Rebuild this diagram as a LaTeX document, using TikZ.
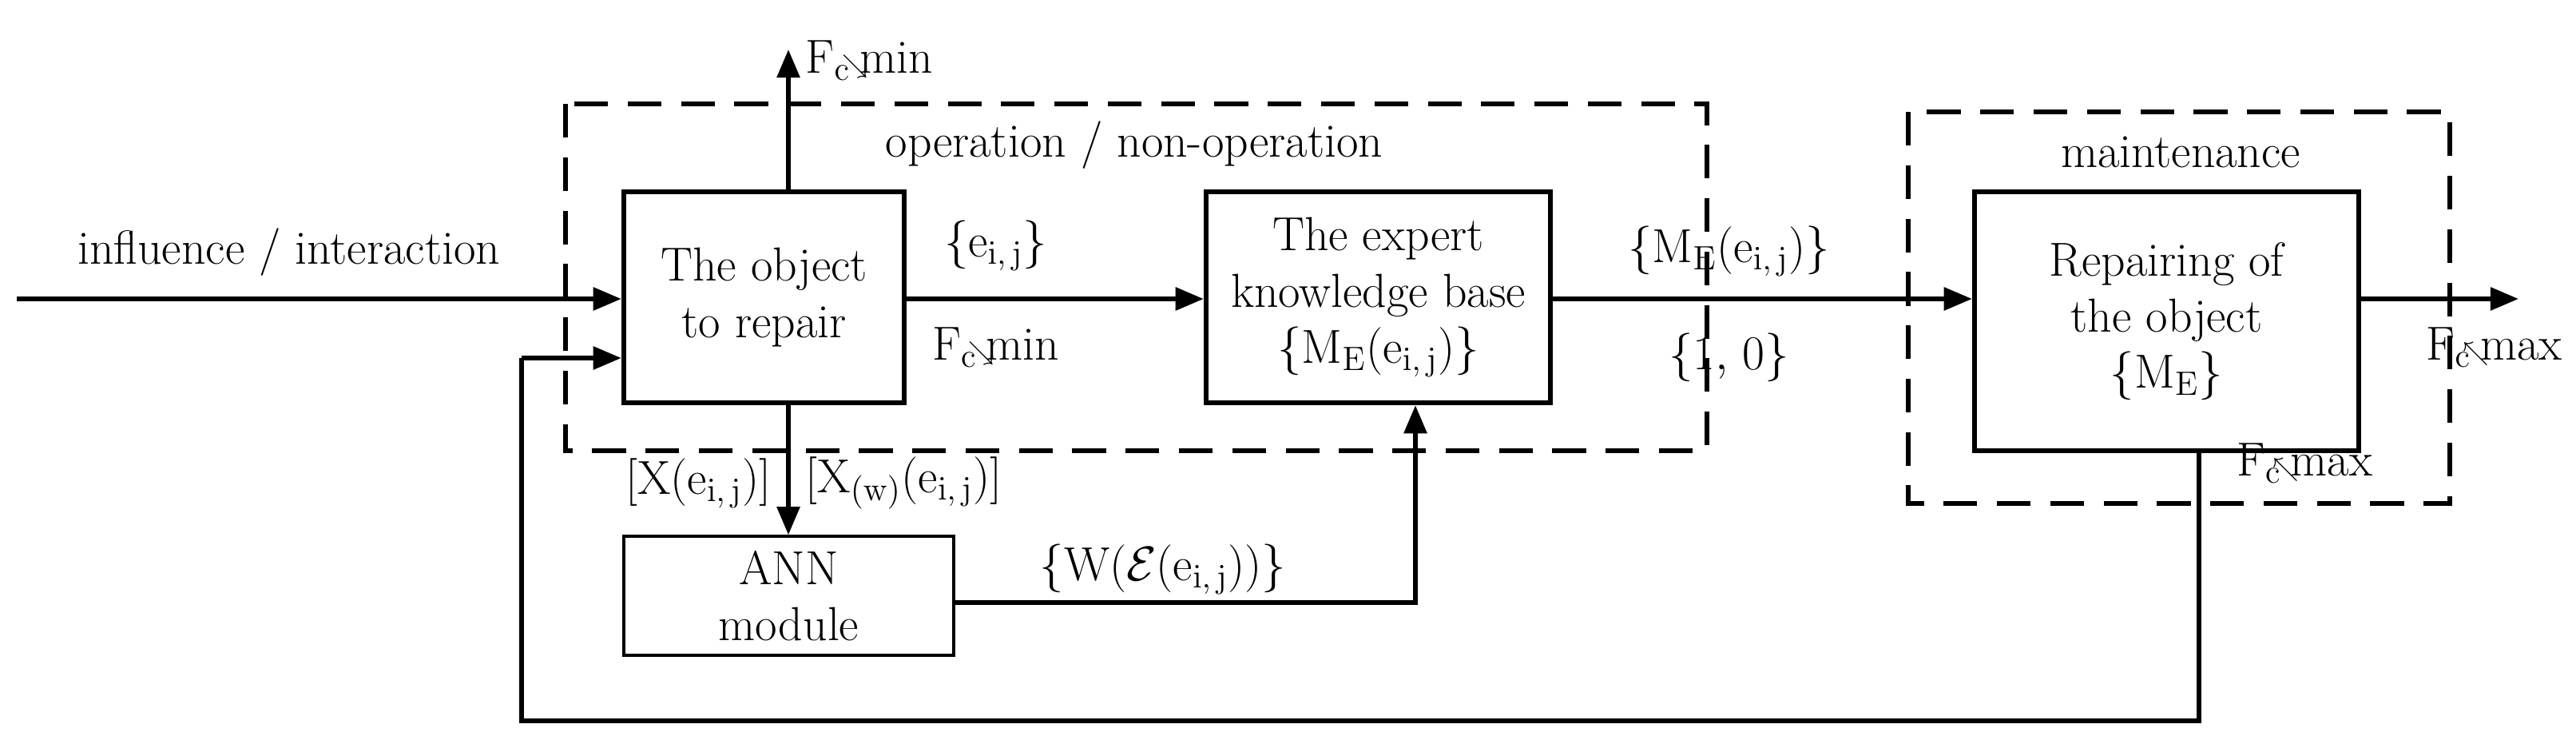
\documentclass[tikz,border=0pt]{standalone}
\usetikzlibrary{arrows.meta}
\begin{document}
\begin{tikzpicture}[x=1cm,y=-1cm,font=\fontsize{17}{20}\selectfont,
  dbox/.style={draw,line width=1.8pt,dash pattern=on 12pt off 7pt},
  arr/.style={line width=1.6pt,-{Triangle[length=10pt,width=8pt]}},
  ln/.style={line width=1.6pt}]
\useasboundingbox (0,0) rectangle (32.25,9.35);
\newcommand{\fcdn}{F$_{\mathrm c}$\kern-3pt{\small$\searrow$}\kern-3pt min}
\newcommand{\fcup}{F$_{\mathrm c}$\kern-3pt{\small$\nwarrow$}\kern-3pt max}
\draw[dbox] (7.08,1.30) rectangle (21.37,5.64);
\draw[dbox] (23.89,1.40) rectangle (30.67,6.30);
\node[draw,line width=1.8pt,minimum width=3.51cm,minimum height=2.64cm,align=center] (obj) at (9.565,3.72) {The object\\to repair};
\node[draw,line width=1.8pt,minimum width=4.31cm,minimum height=2.64cm,align=center] (exp) at (17.255,3.72) {The expert\\knowledge base\\$\{$M$_{\mathrm E}$(e$_{\mathrm{i,\,j}}$)$\}$};
\node[draw,line width=1.8pt,minimum width=4.81cm,minimum height=3.24cm,align=center] (rep) at (27.125,4.02) {Repairing of\\the object\\$\{$M$_{\mathrm E}\}$};
\node[draw,line width=1pt,minimum width=4.13cm,minimum height=1.49cm,align=center] (ann) at (9.875,7.455) {ANN\\module};
\node at (14.2,1.82) {operation / non-operation};
\node at (27.3,1.90) {maintenance};
\coordinate (in) at (0.21,3.74);
\coordinate (top) at (9.87,0.62);
\coordinate (out) at (31.53,3.74);
\coordinate (fb1) at (27.53,9.02);
\coordinate (fb2) at (6.53,9.02);
\coordinate (fb3) at (6.53,4.48);
\coordinate (ex) at (17.72,7.54);
\draw[arr] (in) -- (in -| obj.west) node[pos=0.45,above=4pt] {influence / interaction};
\draw[arr] (obj.north -| top) -- (top) node[right=2pt,pos=1,yshift=-4pt] {\fcdn};
\draw[arr] (obj.east |- in) -- (exp.west |- in) node[pos=0.3,above=6pt] {$\{$e$_{\mathrm{i,\,j}}\}$} node[pos=0.3,below=6pt] {\fcdn};
\draw[arr] (exp.east |- in) -- (rep.west |- in) node[pos=0.42,above=4pt] {$\{$M$_{\mathrm E}$(e$_{\mathrm{i,\,j}}$)$\}$} node[pos=0.42,below=8pt] {$\{1,$ $0\}$};
\draw[arr] (rep.east |- in) -- (out);
\node[anchor=east] at (32.2,4.35) {\fcup};
\node at (28.85,5.80) {\fcup};
\draw[arr] (obj.south -| top) -- (ann.north -| top) node[pos=0.6,left=2pt] {[X(e$_{\mathrm{i,\,j}}$)]} node[pos=0.6,right=2pt] {[X$_{\mathrm{(w)}}$(e$_{\mathrm{i,\,j}}$)]};
\draw[arr] (ann.east |- ex) -- (ex) -- (ex |- exp.south);
\node at (14.56,7.12) {$\{$W($\mathcal E$(e$_{\mathrm{i,\,j}}$))$\}$};
\draw[ln] (rep.south -| fb1) -- (fb1) -- (fb2) -- (fb3);
\draw[arr] (fb3) -- (fb3 -| obj.west);
\end{tikzpicture}
\end{document}
